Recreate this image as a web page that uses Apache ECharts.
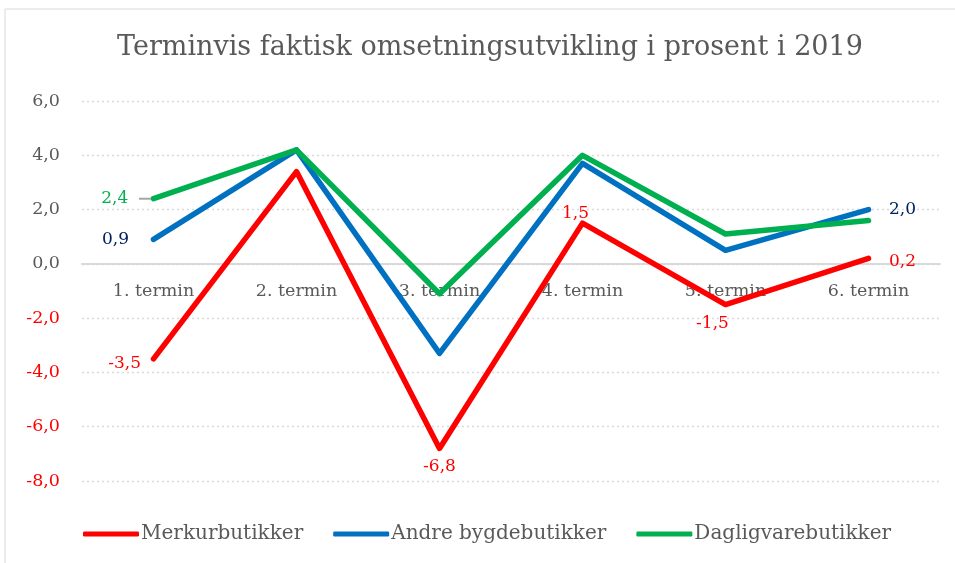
<!DOCTYPE html>
<html lang="no">
<head>
  <meta charset="UTF-8">
  <title>Terminvis omsetningsutvikling</title>
  <style>
    html, body { margin: 0; padding: 0; background: #fff; }
  </style>
</head>
<body>
  <div id="main" style="width: 955px; height: 563px"></div>
  <script src="https://cdn.jsdelivr.net/npm/echarts@6/dist/echarts.min.js"></script>
  <script>
    // data
    const terminer = ['1. termin', '2. termin', '3. termin', '4. termin', '5. termin', '6. termin']
    const merkur = [-3.5, 3.4, -6.8, 1.5, -1.5, 0.2]
    const andre = [0.9, 4.2, -3.3, 3.7, 0.5, 2.0]
    const dagligvare = [2.4, 4.2, -1.1, 4.0, 1.1, 1.6]
    const yMin = -8, yMax = 6

    const fontFam = 'DejaVu Serif'
    const fmt = v => v.toFixed(1).replace('.', ',')

    const gridTop = 101, gridBottom = 82
    // move the category axis up to the zero line (labels go with it)
    const plotH = 563 - gridTop - gridBottom
    const zeroOffset = -plotH * (0 - yMin) / (yMax - yMin)

    // which points get a value label, and where
    function withLabels(values, color, spots) {
      return values.map((v, i) => {
        const s = spots[i]
        if (!s) return v
        return {
          value: v,
          label: Object.assign({
            show: true,
            color: color,
            fontFamily: fontFam,
            fontSize: 17,
            formatter: p => fmt(p.value)
          }, s)
        }
      })
    }

    function lineSeries(name, color, data) {
      return {
        name: name,
        type: 'line',
        symbol: 'circle',
        symbolSize: 1,
        showSymbol: true,
        color: color,
        lineStyle: { width: 5.5, cap: 'round', join: 'round' },
        data: data
      }
    }

    const myChart = echarts.init(document.getElementById('main'))
    const option = {
      animation: false,
      title: {
        text: 'Terminvis faktisk omsetningsutvikling i prosent i 2019',
        left: 112,
        top: 29,
        textStyle: { fontFamily: fontFam, fontWeight: 'normal', fontSize: 27, color: '#595959' }
      },
      graphic: [{
        type: 'rect',
        shape: { x: 5, y: 9, width: 960, height: 570 },
        style: { fill: 'none', stroke: '#d9d9d9', lineWidth: 1 },
        silent: true
      }],
      legend: {
        bottom: 14,
        left: 78,
        itemWidth: 56,
        itemHeight: 5,
        itemGap: 30,
        icon: 'roundRect',
        textStyle: { fontFamily: fontFam, fontSize: 20, color: '#595959', padding: [0, 0, 0, -3] },
        data: ['Merkurbutikker', 'Andre bygdebutikker', 'Dagligvarebutikker']
      },
      grid: { left: 82, right: 15, top: gridTop, bottom: gridBottom },
      xAxis: {
        type: 'category',
        data: terminer,
        boundaryGap: true,
        offset: zeroOffset,
        axisLine: { onZero: false, lineStyle: { color: '#d9d9d9', width: 2 } },
        axisTick: { show: false },
        axisLabel: { fontFamily: fontFam, fontSize: 17.5, color: '#595959', margin: 19 }
      },
      yAxis: {
        type: 'value',
        min: yMin,
        max: yMax,
        interval: 2,
        axisLine: { show: false },
        axisTick: { show: false },
        splitLine: { lineStyle: { color: '#d9d9d9', type: [2, 3], width: 1.3 } },
        axisLabel: {
          fontFamily: fontFam,
          fontSize: 17.5,
          margin: 22,
          formatter: v => fmt(v),
          color: v => (v < 0 ? '#ff0000' : '#595959')
        }
      },
      series: [
        lineSeries('Merkurbutikker', '#ff0000', withLabels(merkur, '#ff0000', {
          0: { position: 'left', distance: 12, offset: [0, 5] },
          2: { position: 'bottom', distance: 9 },
          3: { position: 'top', distance: 1, offset: [-7, 0] },
          4: { position: 'bottom', distance: 10, offset: [-13, 0] },
          5: { position: 'right', distance: 20, offset: [0, 3] }
        })),
        lineSeries('Andre bygdebutikker', '#0070c0', withLabels(andre, '#002060', {
          0: { position: 'left', distance: 24 },
          5: { position: 'right', distance: 20 }
        })),
        lineSeries('Dagligvarebutikker', '#00b050', withLabels(dagligvare, '#00b050', {
          0: {
            position: 'left',
            distance: 2,
            formatter: p => '{v|' + fmt(p.value) + '}  {l|}',
            rich: {
              v: { color: '#00b050', fontFamily: fontFam, fontSize: 17 },
              l: { width: 12, height: 2, backgroundColor: '#a6a6a6' }
            }
          }
        }))
      ]
    }
    myChart.setOption(option)
  </script>
</body>
</html>
